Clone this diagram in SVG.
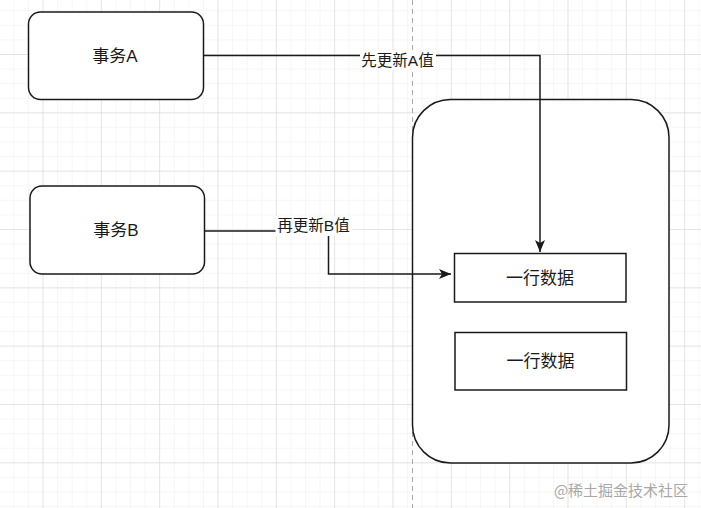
<svg xmlns="http://www.w3.org/2000/svg" width="701" height="508" viewBox="0 0 701 508">
<defs>
<pattern id="minor" x="42.5" y="54" width="14.583" height="14.583" patternUnits="userSpaceOnUse">
<path d="M0 0H14.583M0 0V14.583" fill="none" stroke="#eeeeee" stroke-width="1"/>
</pattern>
<pattern id="major" x="42.5" y="54" width="58.333" height="58.333" patternUnits="userSpaceOnUse">
<path d="M0 0H58.333M0 0V58.333" fill="none" stroke="#d4d4d4" stroke-width="1"/>
</pattern>
<marker id="arrow" viewBox="0 0 12 10" refX="12" refY="5" markerWidth="12" markerHeight="10" markerUnits="userSpaceOnUse" orient="auto">
<path d="M0 0L12 5L0 10L3 5Z" fill="#1a1a1a"/>
</marker>
</defs>
<style>
.node{fill:#ffffff;stroke:#1a1a1a;stroke-width:1.5}
.row{fill:#ffffff;stroke:#1a1a1a;stroke-width:1.5}
.t{font-family:"Liberation Sans","Noto Sans CJK SC",sans-serif;font-size:17px;fill:#1a1a1a;text-anchor:middle;dominant-baseline:central}
.el{font-family:"Liberation Sans","Noto Sans CJK SC",sans-serif;font-size:15.5px;fill:#1a1a1a;text-anchor:middle;dominant-baseline:central}
.edge{fill:none;stroke:#1a1a1a;stroke-width:1.5}
</style>
<rect width="701" height="508" fill="#ffffff"/>
<rect width="701" height="508" fill="url(#minor)"/>
<rect width="701" height="508" fill="url(#major)"/>
<line x1="412.5" y1="0" x2="412.5" y2="508" stroke="#aaaaaa" stroke-width="1" stroke-dasharray="5 4"/>
<g id="container">
<rect class="node" x="412.5" y="99.5" width="256.5" height="363.5" rx="38" ry="38"/>
</g>
<g id="txA">
<rect class="node" x="28.5" y="12" width="175" height="87.5" rx="12" ry="12"/>
<text class="t" x="115" y="56">事务A</text>
</g>
<g id="txB">
<rect class="node" x="30" y="186" width="174.5" height="88" rx="12" ry="12"/>
<text class="t" x="116" y="230">事务B</text>
</g>
<g id="row1">
<rect class="row" x="454.5" y="253.5" width="171.5" height="48.5"/>
<text class="t" x="540" y="278.5">一行数据</text>
</g>
<g id="row2">
<rect class="row" x="455" y="332.5" width="171.5" height="57.5"/>
<text class="t" x="540.5" y="361">一行数据</text>
</g>
<g id="connectors">
<path class="edge" d="M203.5 55.5H540V252" marker-end="url(#arrow)"/>
<rect x="360" y="50" width="76" height="20" fill="#ffffff"/>
<text class="el" x="397.5" y="60">先更新A值</text>
<path class="edge" d="M204.5 231H328.5V274H451" marker-end="url(#arrow)"/>
<rect x="275.5" y="216" width="77" height="20" fill="#ffffff"/>
<text class="el" x="313.5" y="225.5">再更新B值</text>
</g>
<text x="621" y="489" font-family="'Noto Sans CJK SC','Liberation Sans',sans-serif" font-size="15" fill="#a8a8a8" text-anchor="middle" dominant-baseline="central">@稀土掘金技术社区</text>
</svg>
